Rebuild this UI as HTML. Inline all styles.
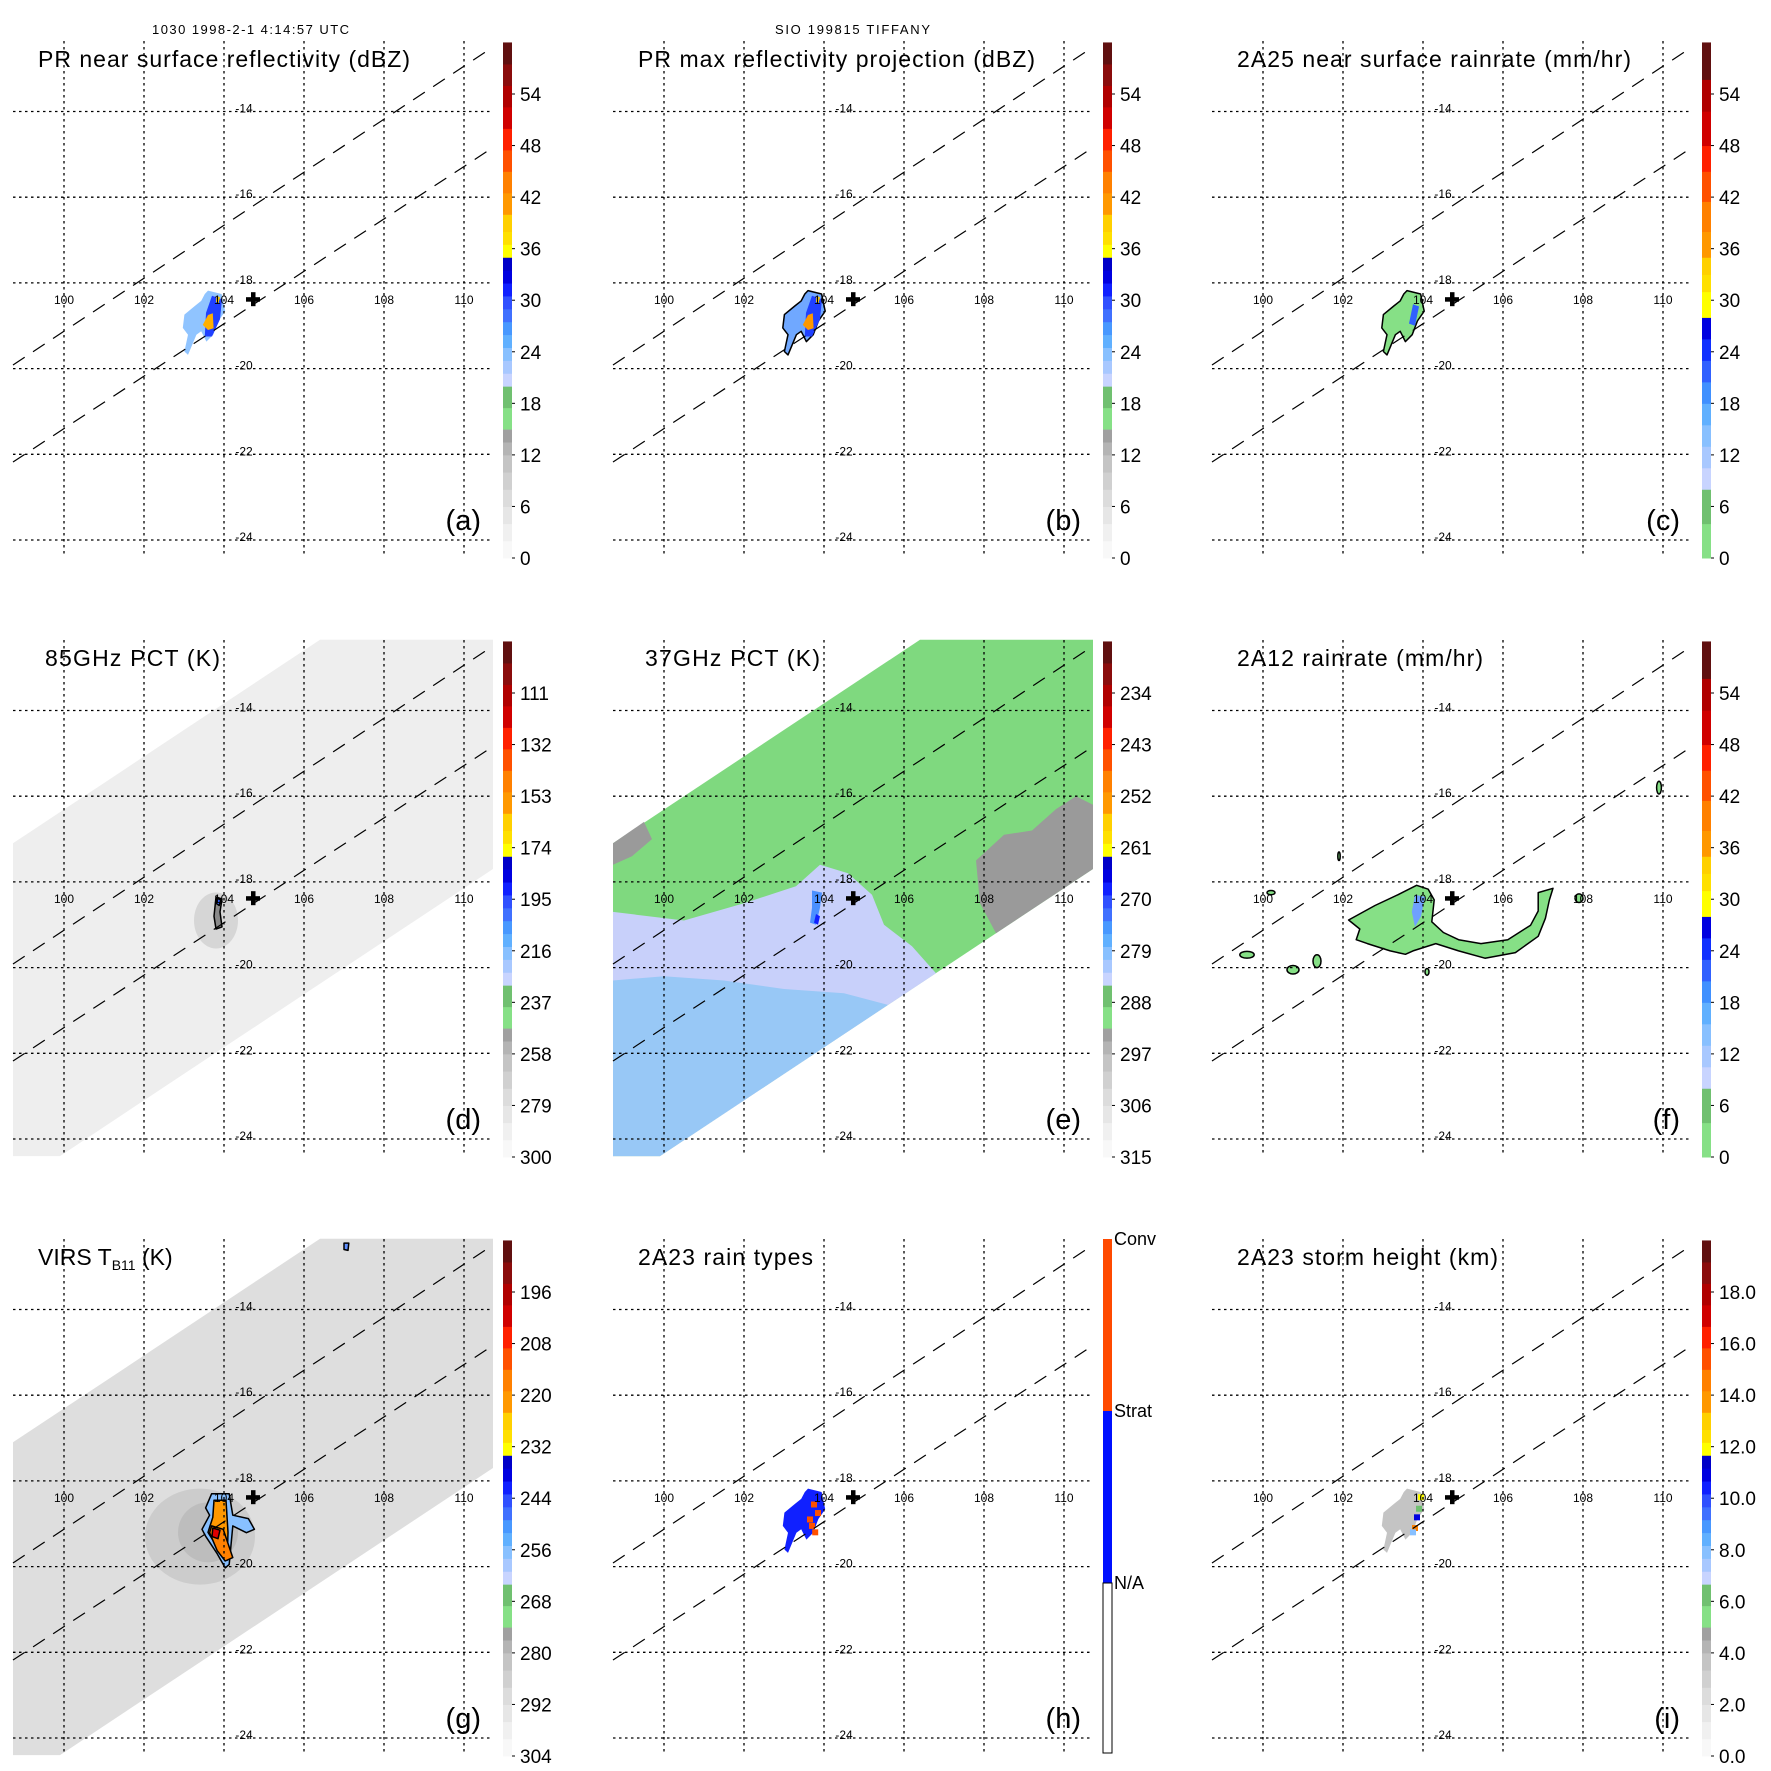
<!DOCTYPE html>
<html><head><meta charset="utf-8">
<style>
html,body{margin:0;padding:0;background:#fff;}
svg{display:block;font-family:"Liberation Sans",Arial,sans-serif;}
</style></head>
<body>
<svg id="fig" width="1771" height="1771" viewBox="0 0 1771 1771" xmlns="http://www.w3.org/2000/svg">
<text x="152" y="34" font-size="13" textLength="197">1030 1998-2-1 4:14:57 UTC</text>
<text x="775" y="34" font-size="13" textLength="155">SIO 199815 TIFFANY</text>
</svg>
<script>
// ---------- data ----------
const lonTicks = [100,102,104,106,108,110];
const latTicks = [-14,-16,-18,-20,-22,-24];
const crossPos = [104.725,-18.38];
const titles = ["PR near surface reflectivity (dBZ)","PR max reflectivity projection (dBZ)","2A25 near surface rainrate (mm/hr)","85GHz PCT (K)","37GHz PCT (K)","2A12 rainrate (mm/hr)","VIRS T","2A23 rain types","2A23 storm height (km)"];
const titleWidths = [372,397,394,175,175,246,0,175,261];
const panelLetters = ["(a)","(b)","(c)","(d)","(e)","(f)","(g)","(h)","(i)"];
const labelsA = ["54","48","42","36","30","24","18","12","6","0"];
const labelsD = ["111","132","153","174","195","216","237","258","279","300"];
const labelsE = ["234","243","252","261","270","279","288","297","306","315"];
const labelsG = ["196","208","220","232","244","256","268","280","292","304"];
const labelsI = ["18.0","16.0","14.0","12.0","10.0","8.0","6.0","4.0","2.0","0.0"];
const rampA = [[0,'#f8f8f8'],[2,'#f0f0f0'],[4,'#e6e6e6'],[6,'#dcdcdc'],[8,'#d0d0d0'],[10,'#c4c4c4'],[12,'#b4b4b4'],[13.5,'#a0a0a0'],[15,'#86e086'],[17.5,'#70c070'],[20,'#c8d4ff'],[21.5,'#a8c8ff'],[23,'#88c0ff'],[24.5,'#60b0ff'],[26,'#4898ff'],[27.5,'#4070ff'],[29,'#3050ff'],[30.5,'#1020ff'],[32,'#0000e0'],[33.5,'#0000c8'],[35,'#ffff00'],[36.5,'#ffe000'],[38,'#ffd000'],[40,'#ff9800'],[42.5,'#ff8000'],[45,'#ff5000'],[47.5,'#ff2000'],[50,'#d00000'],[52.5,'#b00000'],[55,'#8a0c0c'],[57.5,'#601010'],[60,'']];
const rampC = [[0,'#86e086'],[4,'#70c070'],[8,'#c8d4ff'],[10.5,'#a8c8ff'],[13,'#88c0ff'],[15.5,'#60b0ff'],[18,'#4090ff'],[20.5,'#3060ff'],[23,'#1030ff'],[25.5,'#0000e0'],[28,'#ffff00'],[31,'#ffe000'],[33,'#ffd000'],[35,'#ff9800'],[38,'#ff8000'],[41.5,'#ff5000'],[45,'#ff2000'],[48,'#d00000'],[52,'#b00000'],[55.7,'#601010'],[60,'']];
// storm shapes (lon,lat)
const stormOuter = [[103.60,-18.18],[103.94,-18.26],[104.03,-18.66],[103.86,-18.89],[103.73,-19.21],[103.56,-19.37],[103.43,-19.13],[103.31,-19.21],[103.10,-19.68],[103.01,-19.60],[103.10,-19.21],[102.97,-19.05],[103.01,-18.74],[103.27,-18.54],[103.43,-18.42],[103.52,-18.26]];
const stormInner = [[103.70,-18.30],[103.95,-18.38],[103.90,-18.85],[103.70,-19.25],[103.52,-19.25],[103.55,-18.70]];
const stormCore = [[103.60,-18.75],[103.72,-18.71],[103.74,-19.06],[103.60,-19.10],[103.47,-18.98]];
const stormCore2 = [[103.82,-18.30],[103.90,-18.34],[103.86,-18.48],[103.80,-18.44]];
const fMain = [[102.14,-18.89],[102.80,-18.55],[103.37,-18.30],[103.84,-18.08],[104.13,-18.17],[104.28,-18.42],[104.22,-18.93],[104.51,-19.18],[104.89,-19.35],[105.45,-19.44],[106.12,-19.35],[106.69,-19.01],[106.88,-18.68],[106.88,-18.25],[107.25,-18.15],[107.16,-18.42],[107.06,-18.85],[106.88,-19.27],[106.31,-19.65],[105.55,-19.78],[104.89,-19.61],[104.32,-19.44],[103.75,-19.61],[103.56,-19.69],[103.18,-19.61],[102.61,-19.44],[102.33,-19.35],[102.42,-19.10]];
const fBlue = [[103.80,-18.30],[104.05,-18.35],[103.95,-18.80],[103.80,-19.05],[103.72,-18.70]];
const fIslands = [[99.60,-19.70,0.18,0.08],[100.75,-20.05,0.15,0.1],[101.35,-19.85,0.1,0.15],[107.9,-18.38,0.1,0.1],[109.9,-15.8,0.06,0.15],[100.2,-18.25,0.1,0.05],[101.9,-17.4,0.03,0.1],[104.1,-20.1,0.05,0.08]];
const swath = [[98.725,-17.1],[106.4,-12.35],[110.725,-12.35],[110.725,-17.7],[99.9,-24.4],[98.725,-24.4]];
const eLav = [[98.725,-18.7],[100.5,-18.9],[102,-18.5],[103.3,-18.1],[103.9,-17.6],[104.6,-17.8],[105.2,-18.3],[105.5,-19.0],[106.2,-19.5],[106.8,-20.13],[99.9,-24.4],[98.725,-24.4]];
const eBlue = [[98.725,-20.3],[100,-20.2],[101.5,-20.3],[103,-20.5],[104.5,-20.6],[105.6,-20.87],[99.9,-24.4],[98.725,-24.4]];
const eGrey1 = [[107.8,-17.5],[108.5,-16.9],[109.2,-16.8],[109.8,-16.3],[110.3,-16.0],[110.725,-16.2],[110.725,-17.7],[108.3,-19.2],[107.9,-18.5]];
const eGrey2 = [[98.725,-17.1],[99.5,-16.6],[99.7,-17.0],[99.2,-17.4],[98.725,-17.6]];
const eSpot = [[103.70,-18.20],[103.95,-18.25],[103.90,-18.60],[103.80,-19.00],[103.65,-18.95],[103.70,-18.60]];
const gOuter = [[103.69,-18.30],[104.13,-18.30],[104.22,-18.80],[104.61,-18.88],[104.76,-19.13],[104.56,-19.21],[104.22,-19.05],[104.13,-19.95],[104.03,-20.03],[103.83,-19.70],[103.54,-19.29],[103.45,-19.13],[103.64,-18.80],[103.54,-18.63]];
const gMid = [[103.75,-18.45],[104.05,-18.45],[104.10,-19.2],[104.08,-19.85],[103.90,-19.65],[103.60,-19.20],[103.72,-18.85]];
const gCore = [[103.69,-19.05],[103.98,-19.13],[104.22,-19.79],[104.03,-19.87],[103.83,-19.63],[103.64,-19.21]];
const hSpots = [[103.75,-18.55],[103.85,-18.75],[103.70,-19.05],[103.78,-19.20],[103.65,-18.9]];
const iSpots = [[103.95,-18.38,11],[103.85,-18.85,10],[103.80,-19.10,13],[103.75,-19.20,7],[103.90,-18.65,6]];

// ---------- helpers ----------
const NS='http://www.w3.org/2000/svg';
const svg=document.getElementById('fig');
const X=lon=>64+(lon-100)*40;
const Y=lat=>111.5+(-14-lat)*42.85;
const VY=v=>558-v*(464/54);
function mk(tag,attrs,parent){const e=document.createElementNS(NS,tag);for(const k in attrs)e.setAttribute(k,attrs[k]);parent.appendChild(e);return e;}
function pts(arr){return arr.map(p=>X(p[0]).toFixed(1)+','+Y(p[1]).toFixed(1)).join(' ');}
function poly(g,arr,fill,stroke,name){const e=mk('polygon',{points:pts(arr),fill:fill,stroke:stroke||'none','stroke-width':1.5,'stroke-linejoin':'round'},g);


return e;}
function colorFor(ramp,v){let c=ramp[0][1];for(let i=0;i<ramp.length-1;i++){if(v>=ramp[i][0])c=ramp[i][1];}return c;}

const offs=[0,600,1199];
const rowOffs=[0,599,1198];
for(let p=0;p<9;p++){
  const col=p%3,row=Math.floor(p/3);
  const g=mk('g',{transform:`translate(${offs[col]},${rowOffs[row]})`},svg);
  
  
  const data=mk('g',{},g);
  
  
  // backgrounds / data
  if(p===3){poly(data,swath,'#eeeeee','','swath');
    const el=mk('ellipse',{cx:X(103.8),cy:Y(-18.9),rx:22,ry:28,fill:'#d6d6d6'},data);
    
    poly(data,[[103.8,-18.35],[103.95,-18.4],[103.9,-18.7],[103.95,-19.05],[103.8,-19.1],[103.75,-18.8]],'#8a8a8a','#000','storm-core');
    poly(data,[[103.82,-18.38],[103.92,-18.42],[103.88,-18.55],[103.8,-18.5]],'#3060ff','#000','storm-blue');}
  if(p===4){poly(data,swath,'#7fd97f','','swath');
    poly(data,eGrey2,'#9a9a9a','','grey-patch');poly(data,eGrey1,'#9a9a9a','','grey-patch');
    poly(data,eLav,'#c8d0fa','','lavender-region');poly(data,eBlue,'#98c8f6','','blue-region');
    poly(data,eSpot,'#4a90ff','','storm-spot');
    poly(data,[[103.8,-18.75],[103.9,-18.8],[103.85,-19.0],[103.75,-18.95]],'#1020ff','','storm-core');}
  if(p===6){poly(data,swath,'#dedede','','swath');
    const el=mk('ellipse',{cx:X(103.4),cy:Y(-19.3),rx:55,ry:48,fill:'#cccccc'},data);
    
    const el2=mk('ellipse',{cx:X(103.6),cy:Y(-19.2),rx:30,ry:30,fill:'#bdbdbd'},data);
    
    poly(data,gOuter,'#88c0ff','#000','storm-outer');poly(data,gMid,'#ff9800','#000','storm-mid');poly(data,gCore,'#ff8000','#000','storm-core');
    poly(data,[[103.72,-19.1],[103.9,-19.15],[103.85,-19.35],[103.7,-19.3]],'#e00000','#000','storm-red');
    poly(data,[[107.0,-12.45],[107.12,-12.45],[107.1,-12.62],[107.0,-12.6]],'#6090ff','#000','cloud-spot');}
  if(p===0){poly(data,stormOuter,'#90c4ff','','storm-outer');poly(data,stormInner,'#2040ff','','storm-inner');poly(data,stormCore,'#ffb000','','storm-core');poly(data,stormCore2,'#ffd000','','storm-core2');}
  if(p===1){poly(data,stormOuter,'#70a8ff','#000','storm-outer');poly(data,stormInner,'#2040ff','','storm-inner');poly(data,stormCore,'#ff9800','','storm-core');poly(data,stormCore2,'#ffd000','','storm-core2');}
  if(p===2){poly(data,stormOuter,'#86e086','#000','storm-outer');poly(data,[[103.75,-18.5],[103.9,-18.55],[103.8,-19.0],[103.65,-18.95]],'#3060ff','','storm-blue');}
  if(p===5){poly(data,fMain,'#86e086','#000','rain-region');poly(data,fBlue,'#6fa0ff','','rain-core');
    for(const s of fIslands){const e=mk('ellipse',{cx:X(s[0]),cy:Y(s[1]),rx:s[2]*40,ry:s[3]*42.85,fill:'#86e086',stroke:'#000','stroke-width':1.5},data);
      }}
  if(p===7){poly(data,stormOuter,'#1020ff','','stratiform-region');
    for(const s of hSpots){const e=mk('rect',{x:X(s[0])-3,y:Y(s[1])-3,width:6,height:6,fill:'#ff5000'},data);
      }}
  if(p===8){poly(data,stormOuter,'#c4c4c4','','storm-outer');
    for(const s of iSpots){const e=mk('rect',{x:X(s[0])-3,y:Y(s[1])-3,width:6,height:6,fill:colorFor(rampA,s[2]*3.3)},data);
      }}
  // grid
  const grid=mk('g',{stroke:'#000','stroke-width':1.3,'stroke-dasharray':'2.5,3.5'},g);
  
  
  for(const lon of lonTicks){const l=mk('line',{x1:X(lon),x2:X(lon),y1:41,y2:557},grid);
    }
  for(const lat of latTicks){const l=mk('line',{x1:13,x2:493,y1:Y(lat),y2:Y(lat)},grid);
    }
  const sw=mk('g',{stroke:'#000','stroke-width':1.2,'stroke-dasharray':'14,10'},g);
  
  
  mk('line',{x1:13,y1:365,x2:493,y2:47},sw);
  mk('line',{x1:13,y1:462,x2:493,y2:147.5},sw);
  for(const lon of lonTicks){const t=mk('text',{x:X(lon),y:304,'font-size':12,'text-anchor':'middle'},g);t.textContent=String(lon);
    }
  for(const lat of latTicks){const t=mk('text',{x:244,y:Y(lat)+1,'font-size':12,'text-anchor':'middle'},g);t.textContent=String(lat);
    }
  const cr=mk('g',{fill:'#000'},g);
  
  
  mk('rect',{x:X(crossPos[0])-7,y:Y(crossPos[1])-2,width:14,height:4.5},cr);
  mk('rect',{x:X(crossPos[0])-2,y:Y(crossPos[1])-7,width:4.5,height:14},cr);
  // title
  const tt=mk('text',{x:(p===3||p===4)?45:38,y:67,'font-size':23},g);
  
  
  if(p===6){tt.textContent='VIRS T';const s=mk('tspan',{'font-size':14,dy:5},tt);s.textContent='B11';const s2=mk('tspan',{dy:-5},tt);s2.textContent=' (K)';}
  else {tt.textContent=titles[p];tt.setAttribute('textLength',titleWidths[p]);}
  const pl=mk('text',{x:481,y:530,'font-size':29,'text-anchor':'end'},g);pl.textContent=panelLetters[p];
  
  // colorbar
  const cb=mk('g',{},g);
  
  
  if(p===7){
    mk('rect',{x:503,y:41,width:9,height:172,fill:'#ff4a00'},cb);
    mk('rect',{x:503,y:213,width:9,height:172,fill:'#0010ff'},cb);
    mk('rect',{x:503,y:385,width:9,height:170,fill:'#fff',stroke:'#000','stroke-width':1},cb);
    const names=['Conv','Strat','N/A'],ys=[41,213,385];
    for(let k=0;k<3;k++){const t=mk('text',{x:514,y:ys[k]+6,'font-size':18},cb);t.textContent=names[k];
      }
  } else {
    const ramp=(p===2||p===5)?rampC:rampA;
    for(let i=0;i<ramp.length-1;i++){
      const y1=VY(ramp[i+1][0]),y0=VY(ramp[i][0]);
      const r=mk('rect',{x:503,y:y1,width:9,height:(y0-y1)+0.5,fill:ramp[i][1]},cb);
      
    }
    const labs=[labelsA,labelsA,labelsA,labelsD,labelsE,labelsA,labelsG,null,labelsI][p];
    for(let k=0;k<labs.length;k++){const y=94+k*(464/9);
      mk('line',{x1:512,x2:515,y1:y,y2:y,stroke:'#000','stroke-width':1},cb);
      const t=mk('text',{x:520,y:y+7,'font-size':19},cb);t.textContent=labs[k];
      }
  }
}
</script>
</body></html>
